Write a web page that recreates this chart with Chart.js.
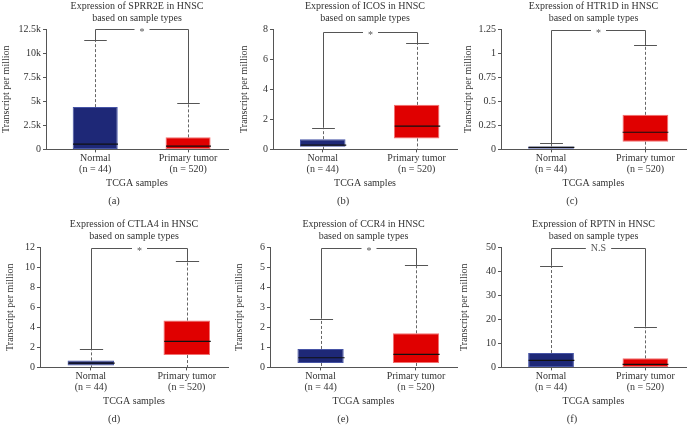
<!DOCTYPE html>
<html>
<head>
<meta charset="utf-8">
<script src="https://cdn.jsdelivr.net/npm/chart.js@4"></script>
<style>
  body { margin: 0; background: #fff; }
  #wrap { position: relative; width: 688px; height: 428px; overflow: hidden; }
  .panel { position: absolute; }
</style>
</head>
<body>
<div id="wrap"></div>
<script>
// values: [min, q1, median, q3, max]
const genes = ["SPRR2E", "ICOS", "HTR1D", "CTLA4", "CCR4", "RPTN"];
const panelTags = ["(a)", "(b)", "(c)", "(d)", "(e)", "(f)"];
const categories = [["Normal", "(n = 44)"], ["Primary tumor", "(n = 520)"]];

const normalStats = [
  [0, 0, 557, 4390, 11350],
  [0, 0.18, 0.29, 0.68, 1.45],
  [0, 0.007, 0.02, 0.031, 0.066],
  [0, 0.2, 0.43, 0.7, 1.8],
  [0, 0.22, 0.48, 0.92, 2.43],
  [0, 0, 2.9, 5.97, 42.2]
];
const tumorStats = [
  [0, 0, 350, 1250, 4800],
  [0.04, 0.73, 1.54, 2.96, 7.05],
  [0, 0.08, 0.178, 0.359, 1.08],
  [0, 1.23, 2.6, 4.67, 10.57],
  [0, 0.22, 0.65, 1.7, 5.08],
  [0, 0.1, 1.25, 3.75, 16.9]
];

const significance = ["*", "*", "*", "*", "*", "N.S"];
const bracketLevel = [12500, 7.77, 1.235, 11.9, 5.95, 49.6];

const yMax = [12500, 8, 1.25, 12, 6, 50];
const yStep = [2500, 2, 0.25, 2, 1, 10];
const yTickLabels = [
  ["0", "2.5k", "5k", "7.5k", "10k", "12.5k"],
  ["0", "2", "4", "6", "8"],
  ["0", "0.25", "0.5", "0.75", "1", "1.25"],
  ["0", "2", "4", "6", "8", "10", "12"],
  ["0", "1", "2", "3", "4", "5", "6"],
  ["0", "10", "20", "30", "40", "50"]
];

// layout bits
const yAxisWidth = [46, 44, 43, 40, 41, 43];
const yTitleInset = [0, 9, 4, 4, 4, 0];
const panelLeft = [0, 229, 458];
const panelTop = [0, 218];
const SERIF = "'Liberation Serif', 'DejaVu Serif', serif";
const TXT = "#333";
const AXIS = "#555";

const boxPlugin = {
  id: "boxDetails",
  afterDatasetsDraw(chart, args, opts) {
    const k = opts.panel;
    const ctx = chart.ctx;
    const x = chart.scales.x, y = chart.scales.y;
    const bars = chart.getDatasetMeta(0).data;
    const stats = [normalStats[k], tumorStats[k]];
    ctx.save();
    stats.forEach((s, i) => {
      const cx = Math.round(x.getPixelForValue(i)) + 0.5;
      const hw = bars[i].width / 2;
      const capW = hw / 2;
      // whiskers (dashed)
      ctx.strokeStyle = "#666";
      ctx.lineWidth = 1;
      ctx.setLineDash([3, 2]);
      ctx.beginPath();
      ctx.moveTo(cx, y.getPixelForValue(s[3]));
      ctx.lineTo(cx, y.getPixelForValue(s[4]));
      if (s[1] > s[0]) {
        ctx.moveTo(cx, y.getPixelForValue(s[1]));
        ctx.lineTo(cx, y.getPixelForValue(s[0]));
      }
      ctx.stroke();
      ctx.setLineDash([]);
      // caps
      ctx.strokeStyle = AXIS;
      ctx.beginPath();
      [s[0], s[4]].forEach(v => {
        const py = Math.round(y.getPixelForValue(v)) + 0.5;
        ctx.moveTo(cx - capW, py);
        ctx.lineTo(cx + capW, py);
      });
      ctx.stroke();
      // median
      ctx.strokeStyle = "#111";
      ctx.lineWidth = 1.2;
      ctx.beginPath();
      const my = y.getPixelForValue(s[2]);
      ctx.moveTo(cx - hw, my);
      ctx.lineTo(cx + hw, my);
      ctx.stroke();
    });
    // significance bracket
    const x0 = Math.round(x.getPixelForValue(0)) + 0.5;
    const x1 = Math.round(x.getPixelForValue(1)) + 0.5;
    const by = Math.round(y.getPixelForValue(bracketLevel[k])) + 0.5;
    ctx.font = "10px " + SERIF;
    const label = significance[k];
    const tw = ctx.measureText(label).width;
    const mid = (x0 + x1) / 2;
    const gap = tw / 2 + 5;
    ctx.strokeStyle = AXIS;
    ctx.lineWidth = 1;
    ctx.beginPath();
    ctx.moveTo(x0, y.getPixelForValue(stats[0][4]));
    ctx.lineTo(x0, by);
    ctx.lineTo(mid - gap, by);
    ctx.moveTo(mid + gap, by);
    ctx.lineTo(x1, by);
    ctx.lineTo(x1, y.getPixelForValue(stats[1][4]));
    ctx.stroke();
    ctx.fillStyle = "#555";
    ctx.textAlign = "center";
    ctx.textBaseline = "middle";
    ctx.fillText(label, mid, label === "*" ? by + 3 : by);
    ctx.restore();
  }
};

const wrap = document.getElementById("wrap");

genes.forEach((gene, k) => {
  const col = k % 3, row = Math.floor(k / 3);
  const cv = document.createElement("canvas");
  cv.className = "panel";
  cv.width = 229;
  cv.height = 214;
  cv.style.left = panelLeft[col] + "px";
  cv.style.top = panelTop[row] + "px";
  wrap.appendChild(cv);

  const data = {
    datasets: [{
      data: [
        { x: 0, y: [normalStats[k][1], normalStats[k][3]] },
        { x: 1, y: [tumorStats[k][1], tumorStats[k][3]] }
      ],
      backgroundColor: ["#1e2877", "#e00000"],
      borderColor: ["#4654a6", "#f27070"],
      borderWidth: 1,
      borderSkipped: false,
      barPercentage: 0.485,
      categoryPercentage: 1
    }]
  };

  new Chart(cv, {
    type: "bar",
    data: data,
    options: {
      responsive: false,
      animation: false,
      layout: { padding: { left: 0, right: 1, top: 0, bottom: 0 } },
      plugins: {
        legend: { display: false },
        tooltip: { enabled: false },
        title: {
          display: true,
          fullSize: false,
          text: ["Expression of " + gene + " in HNSC", "based on sample types"],
          color: TXT,
          font: { family: SERIF, size: 10, weight: "normal", lineHeight: 1.15 },
          padding: { top: 1, bottom: 5 }
        },
        subtitle: {
          display: true,
          position: "bottom",
          text: panelTags[k],
          color: TXT,
          font: { family: SERIF, size: 10.5, weight: "normal", lineHeight: 1.2 },
          padding: { top: 6, bottom: 6 }
        },
        boxDetails: { panel: k }
      },
      scales: {
        x: {
          type: "linear",
          offset: false,
          bounds: "data",
          min: -0.53,
          max: 1.43,
          afterBuildTicks: s => { s.ticks = [{ value: 0 }, { value: 1 }]; },
          afterFit: s => { s.height = 40; },
          grid: { drawOnChartArea: false, offset: false, tickLength: 3, color: AXIS },
          border: { color: AXIS },
          ticks: {
            color: TXT,
            padding: 1,
            font: { family: SERIF, size: 10, lineHeight: 1.05 },
            callback: v => categories[v]
          },
          title: {
            display: true,
            text: "TCGA samples",
            color: TXT,
            font: { family: SERIF, size: 10 },
            padding: { top: 0, bottom: 0 }
          }
        },
        y: {
          min: 0,
          max: yMax[k],
          afterFit: s => { s.width = yAxisWidth[k]; },
          grid: { drawOnChartArea: false, tickLength: 3, color: AXIS },
          border: { color: AXIS },
          ticks: {
            stepSize: yStep[k],
            color: TXT,
            padding: 2,
            font: { family: SERIF, size: 10 },
            callback: (v, i) => yTickLabels[k][i]
          },
          title: {
            display: true,
            text: "Transcript per million",
            color: TXT,
            font: { family: SERIF, size: 10 },
            padding: { top: yTitleInset[k], bottom: 0 }
          }
        }
      }
    },
    plugins: [boxPlugin]
  });
});
</script>
</body>
</html>
